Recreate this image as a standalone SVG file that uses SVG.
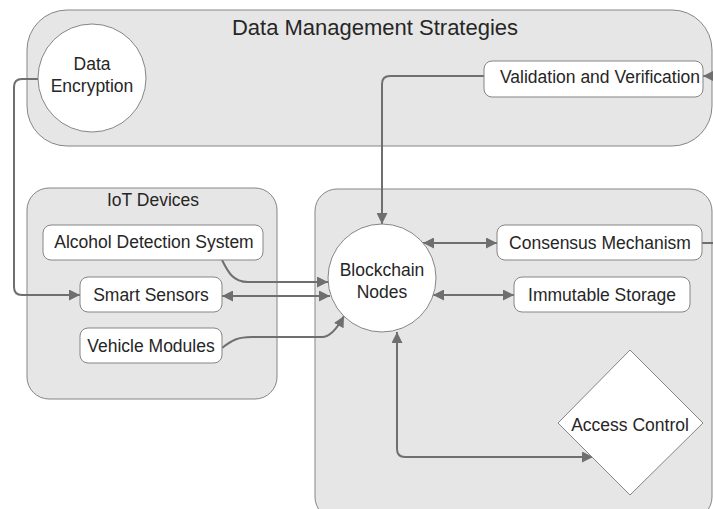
<svg xmlns="http://www.w3.org/2000/svg" width="713" height="509" viewBox="0 0 713 509">
  <style>
    .group { fill: #e6e6e6; stroke: #858585; stroke-width: 1; }
    .node { fill: #ffffff; stroke: #858585; stroke-width: 1; }
    .label { font-family: "Liberation Sans", Arial, sans-serif; font-size: 17.5px; fill: #262626; text-anchor: middle; }
    .title { font-family: "Liberation Sans", Arial, sans-serif; font-size: 22px; fill: #262626; text-anchor: middle; }
    .edge { fill: none; stroke: #6f6f6f; stroke-width: 2; }
  </style>
  <defs>
    <marker id="arrow" viewBox="0 0 10 10" refX="10" refY="5" markerWidth="11" markerHeight="11" markerUnits="userSpaceOnUse" orient="auto-start-reverse">
      <path d="M0,0 L10,5 L0,10 Z" fill="#6f6f6f"/>
    </marker>
  </defs>

  <rect width="713" height="509" fill="#ffffff"/>

  <!-- Containers -->
  <g id="data-management">
    <rect class="group" x="27" y="10" width="685" height="136" rx="40" ry="40"/>
    <text class="title" x="375" y="35">Data Management Strategies</text>
  </g>
  <g id="iot-devices">
    <rect class="group" x="27" y="188" width="250" height="211" rx="22" ry="22"/>
    <text class="label" x="153" y="206">IoT Devices</text>
  </g>
  <g id="blockchain-layer">
    <rect class="group" x="315" y="189" width="397" height="330" rx="22" ry="22"/>
  </g>

  <!-- Connectors -->
  <g id="connectors">
    <path class="edge" d="M39,79 H22 Q14,79 14,87 V287 Q14,295 22,295 H80" marker-end="url(#arrow)"/>
    <path class="edge" d="M484,76 H390 Q382,76 382,84 V224" marker-end="url(#arrow)"/>
    <path class="edge" d="M222,260 C228,272 233,282 248,282 H328" marker-end="url(#arrow)"/>
    <path class="edge" d="M222,296 H330" marker-start="url(#arrow)" marker-end="url(#arrow)"/>
    <path class="edge" d="M222,348 C232,340 238,337 252,337 H322 C331,337 338,327 344,316" marker-end="url(#arrow)"/>
    <path class="edge" d="M423,243 H497" marker-start="url(#arrow)" marker-end="url(#arrow)"/>
    <path class="edge" d="M433,295 H514" marker-start="url(#arrow)" marker-end="url(#arrow)"/>
    <path class="edge" d="M397,332 V449 Q397,457 405,457 H593" marker-start="url(#arrow)" marker-end="url(#arrow)"/>
    <path class="edge" d="M702,243 H722 V76 H703" marker-end="url(#arrow)"/>
  </g>

  <!-- Nodes -->
  <g id="data-encryption">
    <circle class="node" cx="92" cy="78" r="54"/>
    <text class="label" x="92" y="70">Data</text>
    <text class="label" x="92" y="92">Encryption</text>
  </g>
  <g id="validation-verification">
    <rect class="node" x="484" y="61" width="219" height="36" rx="8" ry="8"/>
    <text class="label" x="600" y="83">Validation and Verification</text>
  </g>
  <g id="alcohol-detection">
    <rect class="node" x="43" y="225" width="220" height="35" rx="8" ry="8"/>
    <text class="label" x="154" y="248">Alcohol Detection System</text>
  </g>
  <g id="smart-sensors">
    <rect class="node" x="80" y="277" width="142" height="35" rx="8" ry="8"/>
    <text class="label" x="151" y="301">Smart Sensors</text>
  </g>
  <g id="vehicle-modules">
    <rect class="node" x="80" y="328" width="142" height="35" rx="8" ry="8"/>
    <text class="label" x="151" y="352">Vehicle Modules</text>
  </g>
  <g id="blockchain-nodes">
    <circle class="node" cx="382" cy="278" r="54"/>
    <text class="label" x="382" y="276">Blockchain</text>
    <text class="label" x="382" y="298">Nodes</text>
  </g>
  <g id="consensus-mechanism">
    <rect class="node" x="497" y="225" width="205" height="35" rx="8" ry="8"/>
    <text class="label" x="600" y="249">Consensus Mechanism</text>
  </g>
  <g id="immutable-storage">
    <rect class="node" x="514" y="277" width="176" height="35" rx="8" ry="8"/>
    <text class="label" x="602" y="301">Immutable Storage</text>
  </g>
  <g id="access-control">
    <polygon class="node" points="630,350 703,423 630,495 558,423"/>
    <text class="label" x="630" y="431">Access Control</text>
  </g>
</svg>
